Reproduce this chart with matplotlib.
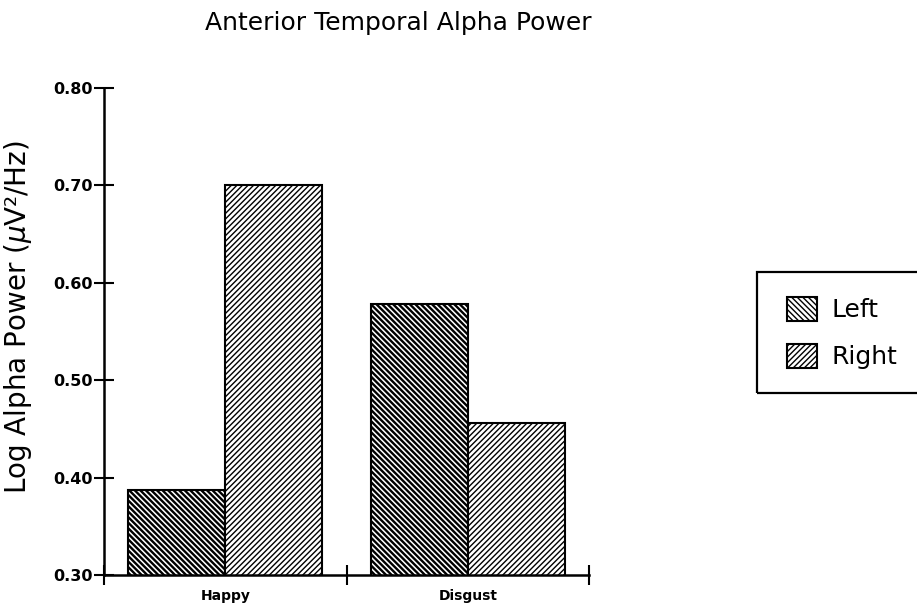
import numpy as np
import matplotlib
matplotlib.use('Agg')
import matplotlib.pyplot as plt
from matplotlib.patches import Rectangle

# values
categories = ['Happy', 'Disgust']
left_vals = [0.387, 0.578]
right_vals = [0.700, 0.456]
yticks = [0.30, 0.40, 0.50, 0.60, 0.70, 0.80]
ytick_labels = ['0.30', '0.40', '0.50', '0.60', '0.70', '0.80']

plt.rcParams['font.family'] = ['DejaVu Sans']

fig = plt.figure(figsize=(9.17, 6.06), dpi=100)
ax = fig.add_axes([0.1134, 0.0512, 0.529, 0.8036])

x = np.arange(len(categories))
w = 0.4

plt.rcParams['hatch.linewidth'] = 1.7
b1 = ax.bar(x - w / 2, left_vals, width=w, bottom=0, color='white',
            edgecolor='black', hatch='\\' * 6, linewidth=1.5, label='Left')
plt.rcParams['hatch.linewidth'] = 1.0
b2 = ax.bar(x + w / 2, right_vals, width=w, bottom=0, color='white',
            edgecolor='black', hatch='/' * 6, linewidth=1.5, label='Right')
for p in b1:
    try:
        p.set_hatch_linewidth(1.7)
    except AttributeError:
        pass
for p in b2:
    try:
        p.set_hatch_linewidth(1.0)
    except AttributeError:
        pass

ax.set_xlim(-0.5, 1.5)
ax.set_ylim(0.30, 0.80)

ax.spines['top'].set_visible(False)
ax.spines['right'].set_visible(False)
ax.spines['left'].set_linewidth(1.8)
ax.spines['bottom'].set_linewidth(1.8)

ax.set_yticks(yticks)
ax.set_yticklabels(ytick_labels, fontsize=11.5, fontweight='bold')
ax.tick_params(axis='y', direction='inout', length=14, width=1.5, pad=1)

# category separators as x ticks, labels as minor ticks
ax.set_xticks([-0.5, 0.5, 1.5])
ax.set_xticklabels(['', '', ''])
ax.tick_params(axis='x', which='major', direction='inout', length=14, width=1.5)
ax.set_xticks(x, minor=True)
ax.set_xticklabels(categories, minor=True, fontsize=10, fontweight='bold')
ax.tick_params(axis='x', which='minor', length=0, pad=10)

ax.set_ylabel('Log Alpha Power ($\\mu$V\u00b2/Hz)', fontsize=20)
ax.yaxis.set_label_coords(-0.145, 0.53)

fig.text(0.434, 0.962, 'Anterior Temporal Alpha Power', fontsize=18,
         ha='center', va='center')

# legend frame runs off the right edge in the reference
fig.patches.append(Rectangle((757 / 917, 1 - 393 / 606), 0.25, 121 / 606,
                             transform=fig.transFigure, fill=False,
                             edgecolor='black', linewidth=1.6))
leg = fig.legend(handles=[b1, b2], loc='center left',
                 bbox_to_anchor=(787 / 917, 1 - 333 / 606), fontsize=18,
                 frameon=False, handlelength=1.2, handleheight=1.1,
                 handletextpad=0.6, borderpad=0, labelspacing=0.85,
                 borderaxespad=0)
for h in leg.legend_handles:
    try:
        h.set_hatch_linewidth(1.7 if h.get_label() == 'Left' else 1.0)
    except AttributeError:
        pass

fig.savefig('out.png', dpi=100)
